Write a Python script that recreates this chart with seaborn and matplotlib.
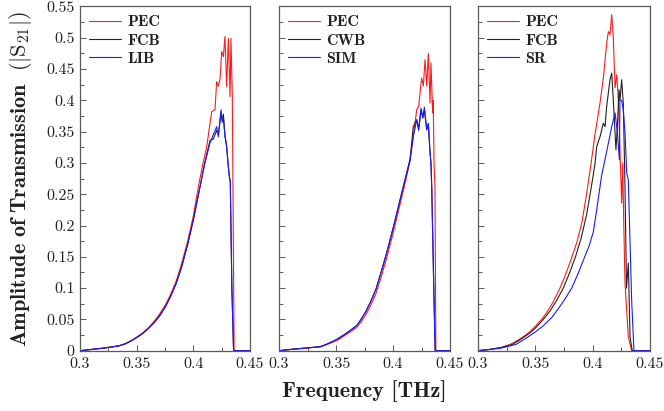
import numpy as np
import pandas as pd
import seaborn as sns
import matplotlib
matplotlib.use("Agg")
import matplotlib.pyplot as plt
from matplotlib.ticker import FixedLocator, FixedFormatter, MultipleLocator
from matplotlib.font_manager import FontProperties

# ---------------- data ----------------
# Panel 1: PEC / FCB / LIB
p1_pec_f = [0.300, 0.310, 0.320, 0.330, 0.335, 0.340, 0.345, 0.350, 0.355, 0.360, 0.365, 0.370, 0.375,
            0.380, 0.385, 0.390, 0.395, 0.400, 0.4044, 0.4080, 0.4118, 0.4162,
            0.4191, 0.4206, 0.4221, 0.4236, 0.4250, 0.4265, 0.4279, 0.4294, 0.4309, 0.4324, 0.4332, 0.4344,
            0.4352, 0.4360, 0.450]
p1_pec_v = [0.0, 0.002, 0.004, 0.0065, 0.0082, 0.0115, 0.016, 0.0215, 0.028, 0.036, 0.046, 0.058, 0.072,
            0.090, 0.112, 0.141, 0.175, 0.215, 0.262, 0.295, 0.326, 0.382,
            0.385, 0.430, 0.423, 0.435, 0.478, 0.470, 0.502, 0.422, 0.499, 0.406, 0.499, 0.406,
            0.20, 0.0, 0.0]
p1_fcb_f = [0.300, 0.310, 0.320, 0.330, 0.335, 0.340, 0.345, 0.350, 0.355, 0.360, 0.365, 0.370, 0.375,
            0.380, 0.385, 0.390, 0.395, 0.400, 0.4059, 0.4100, 0.4147, 0.4176,
            0.4206, 0.4221, 0.4244, 0.4255, 0.4265, 0.4279, 0.4294, 0.4309, 0.4318, 0.4326, 0.4340,
            0.4355, 0.450]
p1_fcb_v = [0.0, 0.002, 0.004, 0.0065, 0.008, 0.011, 0.0155, 0.021, 0.027, 0.035, 0.044, 0.055, 0.069,
            0.087, 0.108, 0.136, 0.170, 0.209, 0.262, 0.300, 0.336, 0.338,
            0.352, 0.345, 0.380, 0.368, 0.378, 0.345, 0.326, 0.294, 0.278, 0.27, 0.10,
            0.0, 0.0]
p1_lib_f = [0.300, 0.310, 0.320, 0.330, 0.335, 0.340, 0.345, 0.350, 0.355, 0.360, 0.365, 0.370, 0.375,
            0.380, 0.385, 0.390, 0.395, 0.400, 0.4059, 0.4100, 0.4147, 0.4176,
            0.4206, 0.4221, 0.4244, 0.4255, 0.4265, 0.4279, 0.4294, 0.4309, 0.4318, 0.4326, 0.4340,
            0.4355, 0.450]
p1_lib_v = [0.0, 0.002, 0.004, 0.0065, 0.008, 0.011, 0.0155, 0.021, 0.027, 0.035, 0.044, 0.055, 0.069,
            0.087, 0.108, 0.136, 0.170, 0.209, 0.262, 0.298, 0.332, 0.345,
            0.358, 0.342, 0.385, 0.365, 0.3716, 0.342, 0.326, 0.294, 0.278, 0.27, 0.10,
            0.0, 0.0]

# Panel 2: PEC / CWB / SIM
p2_pec_f = [0.300, 0.310, 0.320, 0.336, 0.340, 0.345, 0.3506, 0.355, 0.360, 0.3681, 0.372, 0.376, 0.3798,
            0.385, 0.390, 0.395, 0.400, 0.405, 0.409, 0.4149, 0.4178, 0.4208,
            0.4225, 0.4251, 0.4266, 0.4281, 0.4296, 0.4310, 0.4325, 0.4333, 0.4348, 0.4353, 0.4360,
            0.4368, 0.4376, 0.450]
p2_pec_v = [0.0, 0.002, 0.0035, 0.006, 0.0085, 0.012, 0.016, 0.021, 0.027, 0.037, 0.046, 0.057, 0.070,
            0.091, 0.120, 0.152, 0.187, 0.225, 0.255, 0.302, 0.342, 0.385,
            0.39, 0.4355, 0.423, 0.465, 0.423, 0.475, 0.396, 0.46, 0.38, 0.40, 0.30,
            0.262, 0.0, 0.0]
p2_cwb_f = [0.300, 0.310, 0.320, 0.336, 0.340, 0.345, 0.3506, 0.355, 0.360, 0.3681, 0.372, 0.376, 0.3798,
            0.385, 0.390, 0.395, 0.400, 0.405, 0.409, 0.4149, 0.4178, 0.4208,
            0.4225, 0.4246, 0.4262, 0.4275, 0.4296, 0.4310, 0.4325, 0.4333, 0.4340, 0.4360, 0.4370, 0.450]
p2_cwb_v = [0.0, 0.002, 0.0037, 0.0064, 0.009, 0.013, 0.018, 0.023, 0.029, 0.040, 0.050, 0.062, 0.076,
            0.098, 0.128, 0.160, 0.195, 0.232, 0.262, 0.305, 0.358, 0.369,
            0.352, 0.384, 0.372, 0.385, 0.353, 0.363, 0.316, 0.30, 0.26, 0.08, 0.0, 0.0]
p2_sim_f = [0.300, 0.310, 0.320, 0.336, 0.340, 0.345, 0.3506, 0.355, 0.360, 0.3681, 0.372, 0.376, 0.3798,
            0.385, 0.390, 0.395, 0.400, 0.405, 0.409, 0.4149, 0.4178, 0.4208,
            0.4225, 0.4246, 0.4262, 0.4275, 0.4296, 0.4310, 0.4325, 0.4333, 0.4340, 0.4360, 0.4370, 0.450]
p2_sim_v = [0.0, 0.002, 0.0037, 0.0064, 0.009, 0.013, 0.018, 0.023, 0.029, 0.040, 0.050, 0.062, 0.076,
            0.098, 0.128, 0.160, 0.195, 0.232, 0.262, 0.305, 0.342, 0.369,
            0.355, 0.3875, 0.372, 0.389, 0.353, 0.363, 0.316, 0.30, 0.26, 0.08, 0.0, 0.0]

# Panel 3: PEC / FCB / SR
p3_pec_f = [0.300, 0.310, 0.320, 0.328, 0.335, 0.340, 0.345, 0.350, 0.3555, 0.360, 0.365, 0.3715, 0.376,
            0.381, 0.386, 0.3904, 0.3945, 0.3985, 0.402, 0.4064, 0.4093, 0.4122,
            0.4137, 0.4151, 0.4166, 0.4180, 0.4195, 0.4210, 0.4224, 0.4238, 0.4253, 0.4262, 0.4270,
            0.4282, 0.4311, 0.4340, 0.450]
p3_pec_v = [0.0, 0.002, 0.005, 0.010, 0.017, 0.023, 0.030, 0.039, 0.050, 0.061, 0.076, 0.100, 0.120,
            0.145, 0.172, 0.203, 0.248, 0.298, 0.345, 0.396, 0.4355, 0.491,
            0.510, 0.505, 0.537, 0.500, 0.420, 0.441, 0.400, 0.321, 0.236, 0.300, 0.214,
            0.108, 0.022, 0.0, 0.0]
p3_fcb_f = [0.300, 0.310, 0.320, 0.330, 0.338, 0.345, 0.350, 0.357, 0.363, 0.3685, 0.3744, 0.380, 0.385,
            0.390, 0.3948, 0.3985, 0.402, 0.4035, 0.4064, 0.4093, 0.4108, 0.4122,
            0.4151, 0.4166, 0.4180, 0.4203, 0.4215, 0.4230, 0.4238, 0.4253, 0.4267, 0.4282, 0.4295,
            0.4311, 0.4326, 0.4345, 0.450]
p3_fcb_v = [0.0, 0.002, 0.005, 0.010, 0.019, 0.028, 0.036, 0.050, 0.064, 0.080, 0.100, 0.125, 0.150,
            0.180, 0.218, 0.258, 0.298, 0.326, 0.342, 0.3635, 0.358, 0.390,
            0.433, 0.4435, 0.400, 0.321, 0.358, 0.417, 0.400, 0.433, 0.396, 0.262, 0.10,
            0.14, 0.022, 0.0, 0.0]
p3_sr_f = [0.300, 0.310, 0.320, 0.333, 0.342, 0.350, 0.357, 0.3643, 0.370, 0.376, 0.3817, 0.387, 0.392,
           0.397, 0.4006, 0.4035, 0.4064, 0.4078, 0.4122, 0.4166, 0.4195, 0.4215,
           0.4233, 0.4238, 0.4253, 0.4267, 0.4282, 0.4297, 0.4311, 0.4326, 0.4340, 0.4360, 0.450]
p3_sr_v = [0.0, 0.002, 0.004, 0.010, 0.020, 0.030, 0.040, 0.053, 0.067, 0.083, 0.100, 0.122, 0.145,
           0.168, 0.190, 0.225, 0.262, 0.280, 0.318, 0.358, 0.380, 0.350,
           0.305, 0.400, 0.400, 0.385, 0.348, 0.284, 0.273, 0.172, 0.081, 0.0, 0.0]

panel_series = [
    [("PEC", p1_pec_f, p1_pec_v), ("FCB", p1_fcb_f, p1_fcb_v), ("LIB", p1_lib_f, p1_lib_v)],
    [("PEC", p2_pec_f, p2_pec_v), ("CWB", p2_cwb_f, p2_cwb_v), ("SIM", p2_sim_f, p2_sim_v)],
    [("PEC", p3_pec_f, p3_pec_v), ("FCB", p3_fcb_f, p3_fcb_v), ("SR", p3_sr_f, p3_sr_v)],
]
series_colors = ["#ff1a1a", "#222222", "#1a1aff"]

x_ticks = [0.3, 0.35, 0.4, 0.45]
x_tick_labels = ["0.3", "0.35", "0.4", "0.45"]
y_ticks = [0, 0.05, 0.1, 0.15, 0.2, 0.25, 0.3, 0.35, 0.4, 0.45, 0.5, 0.55]
y_tick_labels = ["0", "0.05", "0.1", "0.15", "0.2", "0.25", "0.3", "0.35", "0.4", "0.45", "0.5", "0.55"]

x_label = "Frequency [THz]"
y_label = r"$\mathbf{Amplitude\ of\ Transmission}\ \ (|\mathrm{S}_{21}|)$"

# ---------------- style ----------------
sns.set_style("ticks")
plt.rcParams["font.family"] = ["cmr10", "DejaVu Serif"]
plt.rcParams["mathtext.fontset"] = "cm"
plt.rcParams["axes.formatter.use_mathtext"] = True

W, H = 664, 411
fig = plt.figure(figsize=(W / 100, H / 100), dpi=100)

axes_px = [(80, 170), (279, 171), (478, 172)]
top_px, bottom_px = 6.5, 350.7

legend_font = FontProperties(family="cmb10", size=11.5)
spine_col = "#5a5a5a"
text_col = "#222222"

for i, (series, (lx, wx)) in enumerate(zip(panel_series, axes_px)):
    ax = fig.add_axes([lx / W, 1 - bottom_px / H, wx / W, (bottom_px - top_px) / H])
    for (name, f, v), col in zip(series, series_colors):
        df = pd.DataFrame({"f": f, "v": v})
        sns.lineplot(data=df, x="f", y="v", ax=ax, color=col, lw=0.8, label=name,
                     sort=False, estimator=None)
    ax.set_xlim(0.3, 0.45)
    ax.set_ylim(0, 0.55)
    ax.xaxis.set_major_locator(FixedLocator(x_ticks))
    ax.xaxis.set_major_formatter(FixedFormatter(x_tick_labels))
    ax.yaxis.set_major_locator(FixedLocator(y_ticks))
    if i == 0:
        ax.yaxis.set_major_formatter(FixedFormatter(y_tick_labels))
    else:
        ax.yaxis.set_major_formatter(FixedFormatter([""] * len(y_ticks)))
    ax.xaxis.set_minor_locator(MultipleLocator(0.025))
    ax.yaxis.set_minor_locator(MultipleLocator(0.025))
    ax.tick_params(which="both", direction="in", color=spine_col, width=0.7,
                   labelsize=11.5, labelcolor=text_col)
    ax.tick_params(which="major", length=4, pad=4)
    ax.tick_params(axis="x", which="major", pad=5)
    ax.tick_params(which="minor", length=3)
    for s in ax.spines.values():
        s.set_color(spine_col)
        s.set_linewidth(0.9)
    ax.set_xlabel("")
    ax.set_ylabel("")
    leg = ax.legend(loc="upper left", frameon=False, prop=legend_font, handlelength=2.0,
                    handletextpad=0.4, labelspacing=0.25, borderaxespad=0.15,
                    bbox_to_anchor=(0.0, 1.0))
    for t in leg.get_texts():
        t.set_color(text_col)
    if i == 0:
        ax.set_ylabel(y_label, fontsize=16, color=text_col, labelpad=9)
    if i == 1:
        ax.set_xlabel(x_label, fontsize=16, fontfamily="cmb10", color=text_col, labelpad=6)

fig.savefig("out.png", dpi=100)
